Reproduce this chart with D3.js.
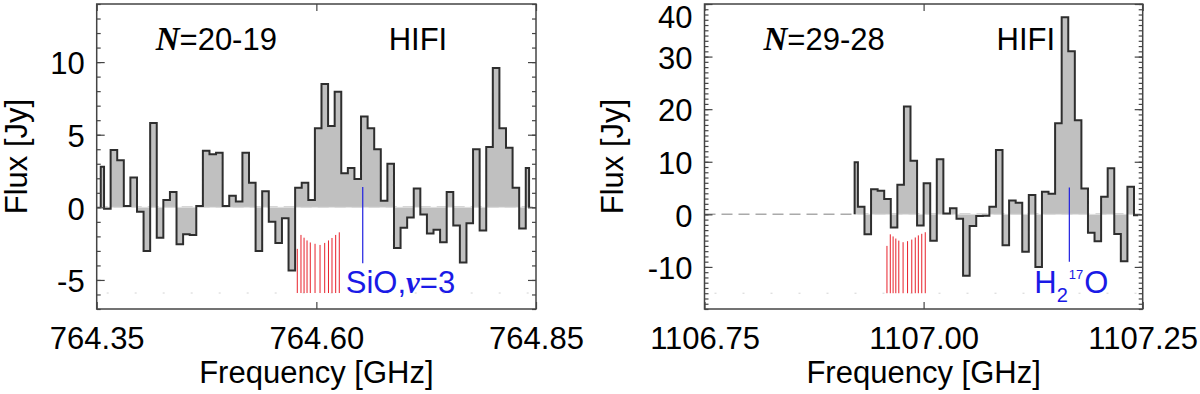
<!DOCTYPE html>
<meta charset="utf-8">
<style>
  body { margin: 0; background: #fff; }
  svg { display: block; font-family: "Liberation Sans", Arial, sans-serif; }
  .frame { fill: none; stroke: #444; stroke-width: 1.5px; }
  .tick line { stroke: #444; stroke-width: 1.2px; }
  .tick text { font-size: 31px; fill: #000; font-family: "Liberation Sans", Arial, sans-serif; }
  .domain { display: none; }
  .fill { fill: #c0c0c0; stroke: none; }
  .outline { fill: none; stroke: #2e2e2e; stroke-width: 2px; stroke-linejoin: miter; }
  .zero { stroke: #aaa; stroke-width: 1.5px; stroke-dasharray: 11,6; }
  .seam { stroke: #e2e2e2; stroke-width: 1px; }
  .floor { stroke: #d4d4d4; stroke-width: 1px; stroke-dasharray: 2,26; }
  .hfs { stroke: #e8202a; stroke-width: 1px; }
  .mark { stroke: #2020e0; stroke-width: 1.2px; }
  .label { font-size: 31px; fill: #000; }
  .blue { fill: #1a1ae6; font-size: 31px; }
</style>
<body>
<script src="https://d3js.org/d3.v7.min.js"></script>
<script>

// N=20-19 (left panel)
var freqA = [764.3546, 764.3621, 764.3696, 764.3771, 764.3846, 764.3921, 764.3996, 764.4071,
  764.4146, 764.4221, 764.4296, 764.4371, 764.4446, 764.4521, 764.4596, 764.4671, 764.4746,
  764.4821, 764.4896, 764.4971, 764.5046, 764.5121, 764.5196, 764.5271, 764.5346, 764.5421,
  764.5496, 764.5571, 764.5646, 764.5721, 764.5796, 764.5871, 764.5946, 764.6021, 764.6096,
  764.6171, 764.6246, 764.6321, 764.6396, 764.6471, 764.6546, 764.6621, 764.6696, 764.6771,
  764.6846, 764.6921, 764.6996, 764.7071, 764.7146, 764.7221, 764.7296, 764.7371, 764.7446,
  764.7521, 764.7596, 764.7671, 764.7746, 764.7821, 764.7896, 764.7971, 764.8046, 764.8121,
  764.8196, 764.8271, 764.8346, 764.8421];
var fluxA = [2.8, -0.1, 3.95, 3.25, 0.1, 2.05, -0.3, -3.0, 5.8, -2.1, 0.5, 1.05, -2.55, -1.85,
  -1.9, 0.1, 3.9, 3.65, 3.75, 0.1, 0.8, 0.4, 3.75, 1.7, -3.0, 1.1, -1.0, -2.45, -0.75, -4.35,
  1.35, 1.7, 0.5, 5.45, 8.5, 5.6, 7.95, 2.35, 2.7, 1.95, 6.25, 5.45, 4.0, 0.45, 3.0, -2.8,
  -1.4, -0.7, 1.3, -0.5, -1.8, -1.55, -2.4, 1.05, -1.25, -3.8, -1.1, 4.0, -1.6, 4.15, 9.6,
  5.45, 4.1, 1.35, -1.45, 2.7];
var hfsFreqA = [764.5783, 764.5825, 764.5860, 764.5894, 764.5931, 764.5985, 764.6042,
  764.6095, 764.6138, 764.6178, 764.6220, 764.6261];
var hfsTopA = [-2.86, -1.9, -2.09, -2.28, -2.42, -2.51, -2.59, -2.45, -2.28, -2.11, -1.9, -1.72];
var hfsBaseA = -5.9;
var blueFreqA = 764.6528, blueRangeA = [1.4, -3.85];

// N=29-28 (right panel)
var freqB = [1106.9213, 1106.9288, 1106.9363, 1106.9438, 1106.9513, 1106.9588, 1106.9663,
  1106.9738, 1106.9813, 1106.9888, 1106.9963, 1107.0038, 1107.0113, 1107.0188, 1107.0263,
  1107.0338, 1107.0413, 1107.0488, 1107.0563, 1107.0638, 1107.0713, 1107.0788, 1107.0863,
  1107.0938, 1107.1013, 1107.1088, 1107.1163, 1107.1238, 1107.1313, 1107.1388, 1107.1463,
  1107.1538, 1107.1613, 1107.1688, 1107.1763, 1107.1838, 1107.1913, 1107.1988, 1107.2063,
  1107.2138, 1107.2213, 1107.2288, 1107.2363, 1107.2438];
var fluxB = [9.9, 1.45, -3.8, 4.75, 4.5, 2.9, -2.5, 5.65, 20.5, 10.2, -2.1, 5.9, -5.0, 10.5,
  0.15, 1.15, -0.85, -11.7, -2.2, -0.3, -0.25, 1.45, 12.25, -5.9, 2.65, 2.2, -7.1, 3.7, -10.0,
  4.3, 3.9, 17.3, 37.5, 31.0, 17.9, 4.9, -3.5, -5.1, 3.35, 8.75, -3.75, -8.9, 5.25, -0.15];
var hfsFreqB = [1106.9582, 1106.9620, 1106.9652, 1106.9683, 1106.9717, 1106.9766, 1106.9817,
  1106.9865, 1106.9905, 1106.9940, 1106.9979, 1107.0019];
var hfsTopB = [-6.0, -3.8, -4.2, -4.6, -5.0, -5.3, -5.1, -4.8, -4.4, -4.0, -3.7, -3.4];
var hfsBaseB = -15;
var blueFreqB = 1107.1663, blueRangeB = [5.1, -9.0];

var xTicksA = [764.35, 764.60, 764.85];
var xTicksB = [1106.75, 1107.00, 1107.25];
var yTicksA = [-5, 0, 5, 10];
var yTicksB = [-10, 0, 10, 20, 30, 40];

var width = 1200, height = 394,
    plotTop = 4, plotBottom = 309;

var svg = d3.select("body").append("svg")
    .attr("width", width)
    .attr("height", height);

function drawPanel(p) {
  var x = d3.scaleLinear().domain(p.xDomain).range([p.left, p.right]);
  var y = d3.scaleLinear().domain(p.yDomain).range([plotBottom, plotTop]);
  var g = svg.append("g");

  g.append("line").attr("class", "zero")
      .attr("x1", p.left).attr("x2", p.right)
      .attr("y1", y(0)).attr("y2", y(0));
  g.append("line").attr("class", "floor")
      .attr("x1", p.left + 10).attr("x2", p.right)
      .attr("y1", y(p.hfsBase)).attr("y2", y(p.hfsBase));

  var pts = p.freq.map(function(f, i) { return [f, p.flux[i]]; });
  var first = pts[0][0], last = pts[pts.length - 1][0];

  var area = d3.area().curve(d3.curveStep)
      .x(function(d) { return x(d[0]); })
      .y0(y(0))
      .y1(function(d) { return y(d[1]); });
  g.append("path").datum(pts).attr("class", "fill").attr("d", area);

  g.append("line").attr("class", "seam")
      .attr("x1", x(first)).attr("x2", x(last))
      .attr("y1", y(0)).attr("y2", y(0));

  var line = d3.line().curve(d3.curveStep)
      .x(function(d) { return x(d[0]); })
      .y(function(d) { return y(d[1]); });
  g.append("path")
      .datum([[first, 0]].concat(pts, [[last, 0]]))
      .attr("class", "outline")
      .attr("d", line);

  // hyperfine components
  g.selectAll(".hfs").data(p.hfsFreq).enter().append("line")
      .attr("class", "hfs")
      .attr("x1", function(d) { return x(d); })
      .attr("x2", function(d) { return x(d); })
      .attr("y1", y(p.hfsBase))
      .attr("y2", function(d, i) { return y(p.hfsTop[i]); });

  g.append("line").attr("class", "mark")
      .attr("x1", x(p.blueFreq)).attr("x2", x(p.blueFreq))
      .attr("y1", y(p.blueRange[0])).attr("y2", y(p.blueRange[1]));

  // axes, ticks pointing inward
  var fmtY = function(d) { return String(d); };
  g.append("g").attr("transform", "translate(" + p.left + ",0)")
      .call(d3.axisLeft(y).tickValues(p.yMinor).tickSize(-4).tickFormat(""));
  g.append("g").attr("transform", "translate(" + p.left + ",0)")
      .call(d3.axisLeft(y).tickValues(p.yTicks).tickSize(-8).tickPadding(12).tickFormat(fmtY))
    .selectAll("text")
      .attr("dy", "0.38em")
      // keep the top label inside the picture, as the original does
      .attr("y", function(d) { return Math.max(0, 15.5 - y(d)); });
  g.append("g").attr("transform", "translate(" + p.right + ",0)")
      .call(d3.axisRight(y).tickValues(p.yMinor).tickSize(-4).tickFormat(""));
  g.append("g").attr("transform", "translate(" + p.right + ",0)")
      .call(d3.axisRight(y).tickValues(p.yTicks).tickSize(-8).tickFormat(""));
  g.append("g").attr("transform", "translate(0," + plotBottom + ")")
      .call(d3.axisBottom(x).tickValues(p.xTicks).tickSize(-7).tickPadding(18)
        .tickFormat(d3.format(".2f")));
  g.append("g").attr("transform", "translate(0," + plotTop + ")")
      .call(d3.axisTop(x).tickValues(p.xTicks).tickSize(-7).tickFormat(""));

  g.append("rect").attr("class", "frame")
      .attr("x", p.left).attr("y", plotTop)
      .attr("width", p.right - p.left).attr("height", plotBottom - plotTop);

  // axis titles
  g.append("text").attr("class", "label")
      .attr("text-anchor", "middle")
      .attr("transform", "translate(" + p.yTitleX + "," + (plotTop + plotBottom) / 2 + ")rotate(-90)")
      .text("Flux [Jy]");
  g.append("text").attr("class", "label")
      .attr("text-anchor", "middle")
      .attr("x", (p.left + p.right) / 2).attr("y", 383)
      .text("Frequency [GHz]");

  // transition label and instrument
  var t = g.append("text").attr("class", "label")
      .attr("x", p.left + p.titleDx).attr("y", 50);
  t.append("tspan")
      .style("font-family", "'Liberation Serif', 'Times New Roman', serif")
      .style("font-style", "italic").style("font-weight", "bold")
      .style("font-size", "33px")
      .text("N");
  t.append("tspan").text(p.title);
  g.append("text").attr("class", "label")
      .attr("x", p.left + p.hifiDx).attr("y", 50)
      .text("HIFI");

  p.blueLabel(g, x(p.blueFreq));
}

drawPanel({
  left: 96.7, right: 536,
  xDomain: [764.35, 764.85], yDomain: [-7, 14],
  freq: freqA, flux: fluxA,
  hfsFreq: hfsFreqA, hfsTop: hfsTopA, hfsBase: hfsBaseA,
  blueFreq: blueFreqA, blueRange: blueRangeA,
  xTicks: xTicksA, yTicks: yTicksA, yMinor: d3.range(-7, 15),
  yTitleX: 27, titleDx: 59, hifiDx: 292,
  title: "=20-19",
  blueLabel: function(g, bx) {
    var t = g.append("text").attr("class", "blue")
        .attr("x", bx - 17).attr("y", 293);
    t.append("tspan").text("SiO,");
    t.append("tspan")
        .style("font-family", "'Liberation Serif', 'Times New Roman', serif")
        .style("font-style", "italic").style("font-weight", "bold")
        .text("v");
    t.append("tspan").text("=3");
  }
});

drawPanel({
  left: 704.5, right: 1142.7,
  xDomain: [1106.75, 1107.25], yDomain: [-18, 40],
  freq: freqB, flux: fluxB,
  hfsFreq: hfsFreqB, hfsTop: hfsTopB, hfsBase: hfsBaseB,
  blueFreq: blueFreqB, blueRange: blueRangeB,
  xTicks: xTicksB, yTicks: yTicksB, yMinor: d3.range(-18, 41),
  yTitleX: 623, titleDx: 59, hifiDx: 292,
  title: "=29-28",
  blueLabel: function(g, bx) {
    var t = g.append("text").attr("class", "blue")
        .attr("x", bx - 35).attr("y", 293);
    t.append("tspan").text("H");
    t.append("tspan").style("font-size", "20px").attr("dy", 8.5).text("2");
    t.append("tspan").style("font-size", "13px").attr("dy", -22.5).attr("dx", 1).text("17");
    t.append("tspan").attr("dy", 14).attr("dx", 1).text("O");
  }
});

</script>
</body>
